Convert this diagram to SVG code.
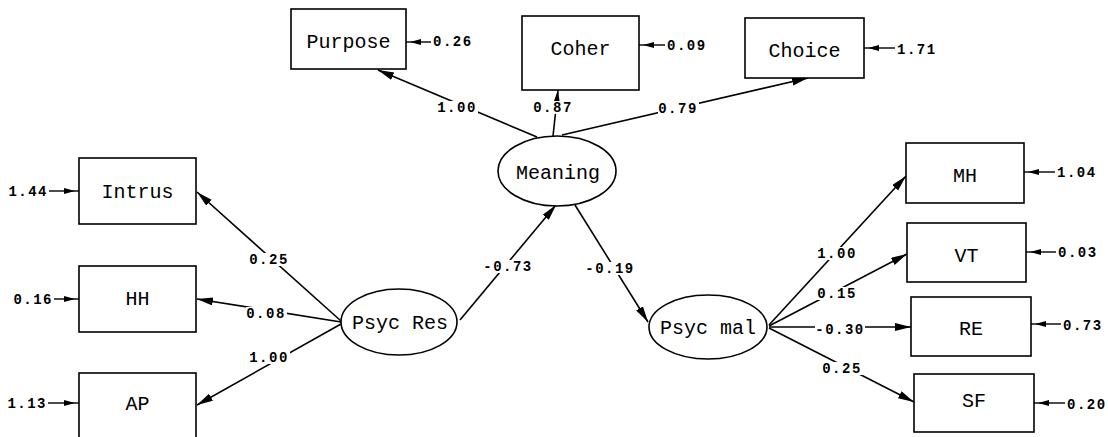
<svg xmlns="http://www.w3.org/2000/svg" width="1108" height="437" viewBox="0 0 1108 437">
<style>
  .box { fill: #fff; stroke: #000; stroke-width: 1.6; }
  .lat { fill: #fff; stroke: #000; stroke-width: 1.6; }
  .name { font-family: "Liberation Mono", "DejaVu Sans Mono", monospace; font-size: 20px; fill: #000; text-anchor: middle; }
  .coef { font-family: "Liberation Mono", "DejaVu Sans Mono", monospace; font-size: 14px; font-weight: bold; letter-spacing: 1.5px; fill: #000; text-anchor: middle; }
  .bg { fill: #fff; }
  .err { font-family: "Liberation Mono", "DejaVu Sans Mono", monospace; font-size: 14px; font-weight: bold; letter-spacing: 1.5px; fill: #000; }
  .path { stroke: #000; stroke-width: 1.6; fill: none; marker-end: url(#ah); }
  .eline { stroke: #000; stroke-width: 1.4; fill: none; marker-end: url(#eh); }
</style>
<defs>
  <marker id="ah" markerUnits="userSpaceOnUse" markerWidth="18" markerHeight="10" refX="16" refY="4" orient="auto">
    <path d="M0,0 L16,4 L0,8 z" fill="#000"/>
  </marker>
  <marker id="eh" markerUnits="userSpaceOnUse" markerWidth="18" markerHeight="8" refX="15" refY="3.5" orient="auto" overflow="visible">
    <path d="M0,0.5 L11,3.5 L0,6.5 z" fill="#000"/>
  </marker>
</defs>
<rect width="1108" height="437" fill="#fff"/>

<g id="connectors">
  <line class="path" x1="537" y1="137" x2="378" y2="70"/>
  <line class="path" x1="553" y1="136" x2="558" y2="90"/>
  <line class="path" x1="562" y1="135" x2="808" y2="78"/>
  <line class="path" x1="460" y1="320" x2="556" y2="205"/>
  <line class="path" x1="575" y1="205" x2="648" y2="322"/>
  <line class="path" x1="341" y1="321" x2="197" y2="192"/>
  <line class="path" x1="341" y1="322" x2="197" y2="299"/>
  <line class="path" x1="341" y1="324" x2="197" y2="405"/>
  <line class="path" x1="769" y1="325" x2="906" y2="176"/>
  <line class="path" x1="769" y1="326" x2="907" y2="254"/>
  <line class="path" x1="769" y1="327" x2="911" y2="327"/>
  <line class="path" x1="769" y1="328" x2="914" y2="402"/>

  <line class="eline" x1="431" y1="42" x2="406" y2="42"/>
  <line class="eline" x1="665" y1="45" x2="639" y2="45"/>
  <line class="eline" x1="895" y1="48" x2="864" y2="48"/>
  <line class="eline" x1="49" y1="191" x2="79" y2="191"/>
  <line class="eline" x1="54" y1="299" x2="79" y2="299"/>
  <line class="eline" x1="48" y1="403" x2="79" y2="403"/>
  <line class="eline" x1="1055" y1="172" x2="1024" y2="172"/>
  <line class="eline" x1="1056" y1="252" x2="1026" y2="252"/>
  <line class="eline" x1="1061" y1="324" x2="1031" y2="324"/>
  <line class="eline" x1="1065" y1="403" x2="1034" y2="403"/>

  <rect class="bg" x="437" y="101" width="41" height="13"/>
  <rect class="bg" x="533" y="101" width="41" height="13"/>
  <rect class="bg" x="658" y="102" width="41" height="13"/>
  <rect class="bg" x="249" y="253" width="41" height="13"/>
  <rect class="bg" x="246" y="307" width="41" height="13"/>
  <rect class="bg" x="249" y="351" width="41" height="13"/>
  <rect class="bg" x="483" y="260" width="50" height="13"/>
  <rect class="bg" x="585" y="262" width="50" height="13"/>
  <rect class="bg" x="817" y="247" width="41" height="13"/>
  <rect class="bg" x="817" y="287" width="41" height="13"/>
  <rect class="bg" x="815" y="323" width="50" height="13"/>
  <rect class="bg" x="822" y="362" width="41" height="13"/>

  <text class="coef" x="457" y="112">1.00</text>
  <text class="coef" x="553" y="112">0.87</text>
  <text class="coef" x="678" y="113">0.79</text>
  <text class="coef" x="269" y="264">0.25</text>
  <text class="coef" x="266" y="318">0.08</text>
  <text class="coef" x="269" y="362">1.00</text>
  <text class="coef" x="508" y="271">-0.73</text>
  <text class="coef" x="610" y="273">-0.19</text>
  <text class="coef" x="837" y="258">1.00</text>
  <text class="coef" x="837" y="298">0.15</text>
  <text class="coef" x="840" y="334">-0.30</text>
  <text class="coef" x="842" y="373">0.25</text>

  <text class="err" x="433" y="46">0.26</text>
  <text class="err" x="667" y="50">0.09</text>
  <text class="err" x="897" y="54">1.71</text>
  <text class="err" x="48" y="196" text-anchor="end">1.44</text>
  <text class="err" x="53" y="304" text-anchor="end">0.16</text>
  <text class="err" x="47" y="408" text-anchor="end">1.13</text>
  <text class="err" x="1057" y="177">1.04</text>
  <text class="err" x="1058" y="257">0.03</text>
  <text class="err" x="1063" y="330">0.73</text>
  <text class="err" x="1067" y="409">0.20</text>
</g>

<g id="node-purpose"><rect class="box" x="291" y="9" width="115" height="60"/><text class="name" x="348.5" y="48">Purpose</text></g>
<g id="node-coher"><rect class="box" x="522" y="16" width="117" height="74"/><text class="name" x="580.5" y="55">Coher</text></g>
<g id="node-choice"><rect class="box" x="745" y="18" width="119" height="60"/><text class="name" x="804.5" y="57">Choice</text></g>
<g id="node-meaning"><ellipse class="lat" cx="557" cy="171" rx="59" ry="35"/><text class="name" x="558" y="179">Meaning</text></g>
<g id="node-intrus"><rect class="box" x="79" y="158" width="117" height="66"/><text class="name" x="137.5" y="198">Intrus</text></g>
<g id="node-hh"><rect class="box" x="79" y="266" width="117" height="66"/><text class="name" x="137.5" y="305">HH</text></g>
<g id="node-ap"><rect class="box" x="79" y="373" width="117" height="72"/><text class="name" x="137.5" y="410">AP</text></g>
<g id="node-psycres"><ellipse class="lat" cx="399" cy="322" rx="58" ry="33"/><text class="name" x="400" y="329">Psyc Res</text></g>
<g id="node-psycmal"><ellipse class="lat" cx="708" cy="327" rx="59" ry="32"/><text class="name" x="708" y="334">Psyc mal</text></g>
<g id="node-mh"><rect class="box" x="906" y="143" width="118" height="60"/><text class="name" x="965" y="182">MH</text></g>
<g id="node-vt"><rect class="box" x="907" y="223" width="119" height="59"/><text class="name" x="966.5" y="262">VT</text></g>
<g id="node-re"><rect class="box" x="911" y="297" width="120" height="59"/><text class="name" x="971" y="335">RE</text></g>
<g id="node-sf"><rect class="box" x="914" y="374" width="120" height="58"/><text class="name" x="974" y="407">SF</text></g>
</svg>
